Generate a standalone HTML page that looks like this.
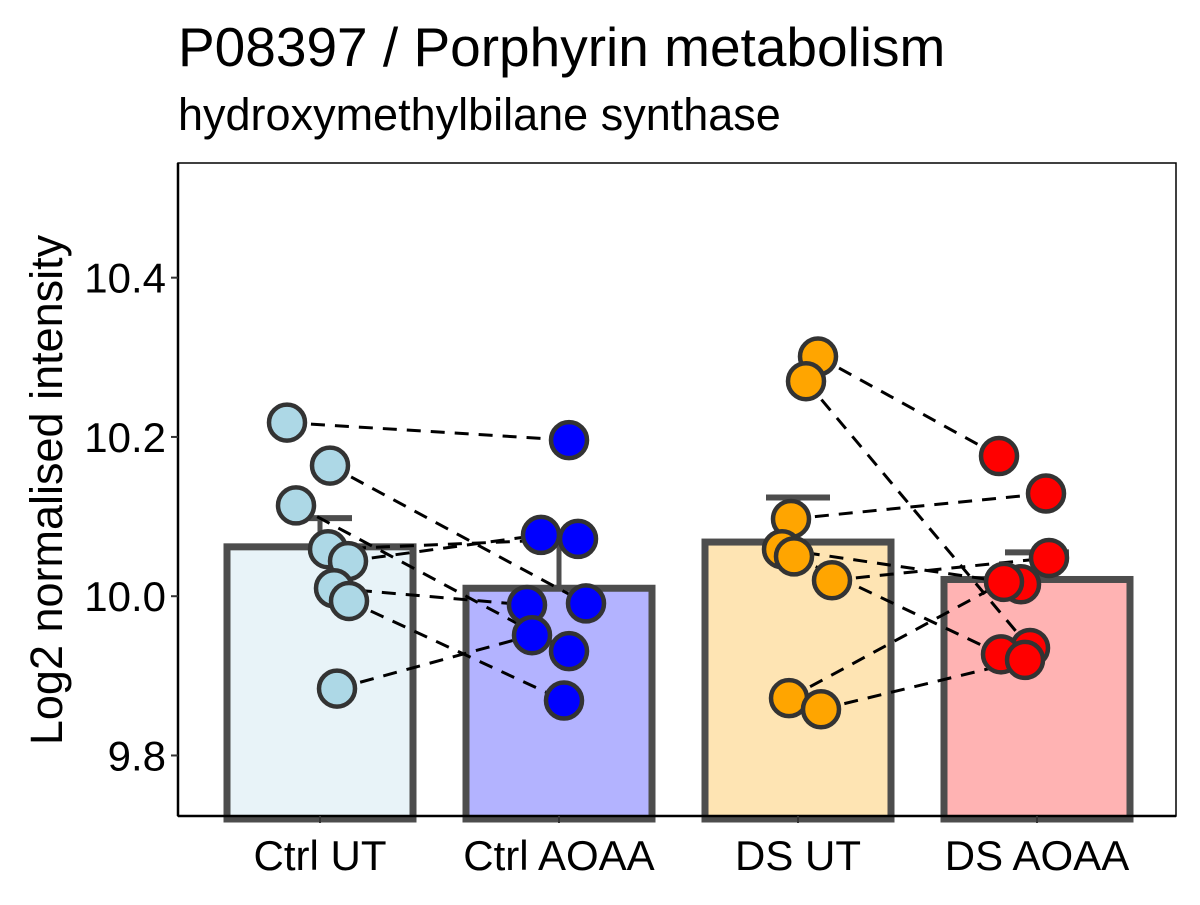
<!DOCTYPE html>
<html><head><meta charset="utf-8"><style>
body{margin:0;background:#fff;font-family:"Liberation Sans",Arial,sans-serif}
svg text{font-family:"Liberation Sans",Arial,sans-serif}
</style></head><body>
<svg id="c" width="1200" height="900" xmlns="http://www.w3.org/2000/svg">
<rect width="1200" height="900" fill="#fff"/>
<text x="178" y="66" style="font-size:55px" fill="#000">P08397 / Porphyrin metabolism</text>
<text x="178" y="130" style="font-size:45px" fill="#000">hydroxymethylbilane synthase</text>
<text transform="translate(62,490) rotate(-90)" text-anchor="middle" style="font-size:45px" fill="#000">Log2 normalised intensity</text>
<g id="g"></g>
</svg>
<script>
const categories=["Ctrl UT","Ctrl AOAA","DS UT","DS AOAA"];
const barMeans=[10.062,10.010,10.068,10.021];
const errTops=[10.098,10.080,10.124,10.055];
const ctrlUT=[10.218,10.164,10.114,10.059,10.044,10.010,9.994,9.884];
const ctrlAOAA=[10.196,9.991,9.931,10.072,10.077,9.989,9.869,9.951];
const dsUT=[10.301,10.270,10.097,10.059,10.050,10.020,9.872,9.858];
const dsAOAA=[10.176,9.935,10.129,10.015,9.927,10.048,10.018,9.920];
const jitUT1=[-33,10,-24,8,28,14,29,17];
const jitA1=[10,27,10,19,-18,-32,5,-27];
const jitUT2=[20,8,-7,-16,-4,34,-9,23];
const jitA2=[-38,-7,9,-16,-36,12,-33,-12];
const yTicks=[9.8,10.0,10.2,10.4];
const yTickLabels=["9.8","10.0","10.2","10.4"];
const fills=["#e8f3f8","#b3b3ff","#fee4b3","#ffb3b3"];
const pts=["#add8e6","#0000ff","#ffa500","#ff0000"];

const L=178,R=1176,T=163,B=816,yMin=9.724,yMax=10.544;
const y=v=>B-(v-yMin)/(yMax-yMin)*(B-T);
const step=239;
const x=i=>320+step*i;
const NS="http://www.w3.org/2000/svg";
const g=document.getElementById('g');
function mk(t,a,p){const e=document.createElementNS(NS,t);for(const k in a)e.setAttribute(k,a[k]);(p||g).appendChild(e);return e;}

let e=mk('rect',{x:L,y:T,width:R-L,height:B-T,fill:'none',stroke:'#000','stroke-width':1.5});


const half=93;
barMeans.forEach((m,i)=>{
  const cx=x(i);
  const b=mk('rect',{x:cx-half,y:y(m),width:2*half,height:B-y(m)+3,fill:fills[i],stroke:'#4d4d4d','stroke-width':7});
  
  
  const l=mk('line',{x1:cx,x2:cx,y1:y(m),y2:y(errTops[i]),stroke:'#4d4d4d','stroke-width':5});
  
  
  const c=mk('line',{x1:cx-32,x2:cx+32,y1:y(errTops[i]),y2:y(errTops[i]),stroke:'#4d4d4d','stroke-width':6});
  
  
});
function pairs(a,ja,ia,b,jb,ib){
  a.forEach((v,k)=>{
    const l=mk('line',{x1:x(ia)+ja[k],y1:y(v),x2:x(ib)+jb[k],y2:y(b[k]),stroke:'#000','stroke-width':3,'stroke-dasharray':'14,10'});
    
    
  });
}
pairs(ctrlUT,jitUT1,0,ctrlAOAA,jitA1,1);
pairs(dsUT,jitUT2,2,dsAOAA,jitA2,3);
function dots(a,j,i){
  a.forEach((v,k)=>{
    const c=mk('circle',{cx:x(i)+j[k],cy:y(v),r:18,fill:pts[i],stroke:'#333','stroke-width':4.5});
    
    
  });
}
dots(ctrlUT,jitUT1,0);dots(ctrlAOAA,jitA1,1);dots(dsUT,jitUT2,2);dots(dsAOAA,jitA2,3);
e=mk('line',{x1:L,x2:L,y1:T,y2:B,stroke:'#000','stroke-width':2.5});


e=mk('line',{x1:L,x2:R,y1:B,y2:B,stroke:'#000','stroke-width':2.5});


yTicks.forEach((v,k)=>{
  const t=mk('line',{x1:L-7,x2:L,y1:y(v),y2:y(v),stroke:'#333','stroke-width':2});
  
  
  const tx=mk('text',{x:L-12,y:y(v)+15,'text-anchor':'end',style:'font-size:42px',fill:'#000'});
  tx.textContent=yTickLabels[k];
  
  
});
categories.forEach((c,i)=>{
  const t=mk('line',{x1:x(i),x2:x(i),y1:B,y2:B+7,stroke:'#333','stroke-width':2});
  
  
  const tx=mk('text',{x:x(i),y:870,'text-anchor':'middle',style:'font-size:42px',fill:'#000'});
  tx.textContent=c;
  
  
});
</script>
</body></html>
